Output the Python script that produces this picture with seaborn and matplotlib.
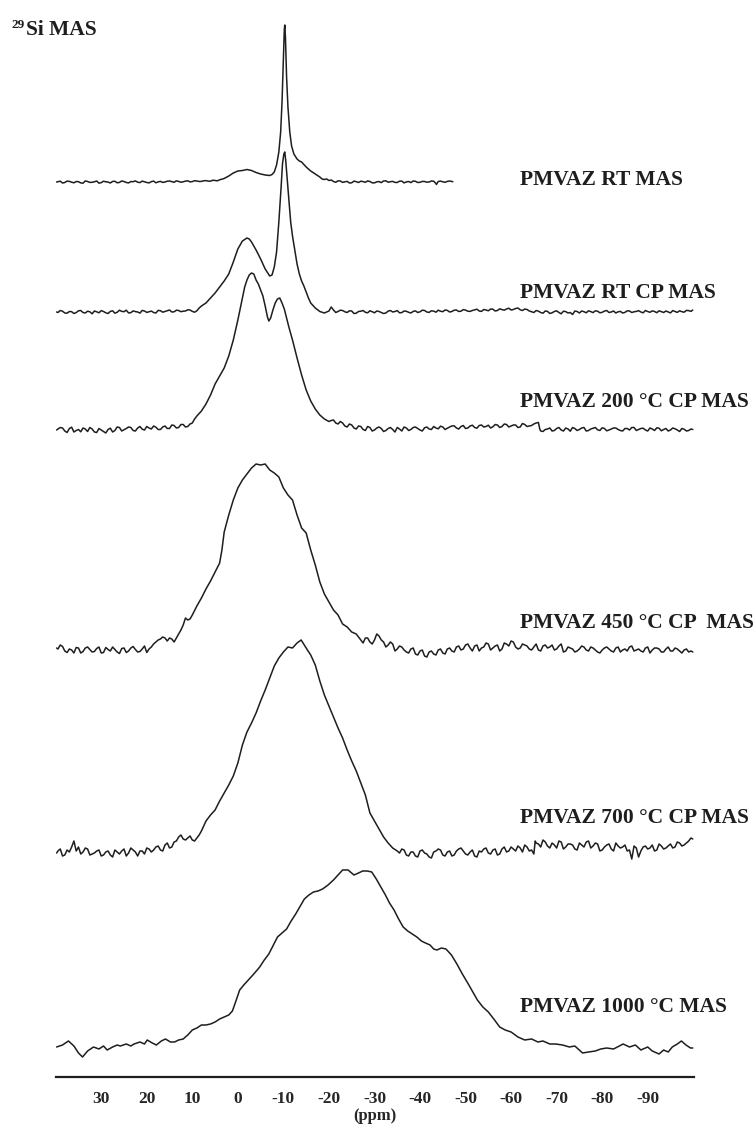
import matplotlib
matplotlib.use("Agg")
import matplotlib.pyplot as plt
import seaborn as sns

# ---- data (ppm, height above own baseline in px) ----
rt_mas_ppm = [39.8, 39, 38, 37, 36, 35, 34, 33, 32, 31, 30, 29, 28, 27, 26, 25, 24, 23, 22, 21,
              20, 19, 18, 17, 16, 15, 14, 13, 12, 11, 10, 9, 8, 7, 6, 5, 4, 3, 2, 1, 0, -1, -2, -3,
              -4, -5, -6, -7, -7.5, -8, -8.5, -9, -9.4, -9.7, -10.0, -10.2, -10.3, -10.45, -10.7,
              -11.0, -11.4, -11.8, -12.3, -13, -13.5, -14, -14.5, -15, -16, -17, -18, -18.5, -19,
              -19.5, -20, -21, -22, -23, -24, -25, -26, -27, -28, -29, -30, -31, -32, -33, -34, -35,
              -36, -37, -38, -39, -40, -41, -42, -43, -43.6, -44, -45, -46, -47.2]
rt_mas_int = [0.0, 0.8, -0.5, 0.6, -0.8, 0.3, -1.2, 0.5, -0.3, 1.0, -0.6, 0.2, -1.0, 0.7, -0.4, 0.5,
              -0.9, 0.3, -0.2, 0.9, -0.5, 0.4, -0.8, 0.6, 0.0, 1.0, -0.3, 0.5, 0.2, 1.2, 0.4, 1.0, 0.6,
              1.4, 0.8, 1.5, 2.2, 3.5, 6, 9, 11, 11.5, 12.5, 11.5, 9.5, 8, 7, 6.5, 7.5, 10, 17, 30, 50,
              80, 125, 152, 157, 145, 105, 75, 50, 36, 28, 23, 21, 20, 17.5, 15, 11, 8, 5, 3, 2.5, 3,
              1.5, 0.5, 1.2, -0.4, 0.6, -0.8, 0.3, 0.8, -0.3, 0.5, -0.9, 0.4, 1.0, -0.2, 0.6, -0.5,
              0.9, 0.1, -0.6, 0.7, -0.3, 0.5, 0.0, 0.8, -2.5, 0.5, 0.2, 0.6, 0.3]
# extra half-ppm samples of the noisy baselines (first ppm, then one value per -1 ppm)
rt_mas_fine = [(39.5, [0.3, -1.0, 0.9, -0.2, 0.5, -0.9, 1.1, -0.4, 0.2, -1.2, 0.8, -0.1, 0.6, -0.8,
                       1.0, -0.5, 0.4, 1.1, -0.6, 0.2, -0.9, 0.9, 0.1, -0.4, 0.8, 0.3, 1.2, -0.2,
                       0.9, 0.1, 1.3, 0.5, 1.2, 0.9, 1.8, 1.2]),
               (-20.5, [2.0, -0.3, 1.0, 0.2, -1.0, 0.9, -0.5, 0.4, 1.1, -0.8, 0.2, -0.6, 1.2, 0.3,
                        -0.4, 0.8, -0.9, 0.5, 1.0, -0.5, 0.6, -0.2, 1.0, -1.5, 0.9, -0.3, 1.0])]

rt_cp_ppm = [39.8, 39, 38, 37, 36, 35, 34, 33, 32, 31, 30, 29, 28, 27, 26, 25, 24, 23, 22, 21, 20,
             19, 18, 17, 16, 15, 14, 13, 12, 11, 10, 9, 8.5, 8, 7, 6, 5, 4, 3, 2, 1, 0, -1, -2, -2.5,
             -3, -4, -5, -6, -7, -7.5, -8, -8.5, -9, -9.5, -9.8, -10.1, -10.3, -10.5, -10.8, -11.2,
             -11.6, -12, -12.5, -13, -13.5, -14, -14.5, -15, -15.5, -16, -17, -18, -19, -20, -20.5,
             -21, -22, -23, -24, -25, -26, -27, -28, -29, -30, -31, -32, -33, -34, -35, -36, -37,
             -38, -39, -40, -41, -42, -43, -44, -45, -46, -47, -48, -49, -50, -51, -52, -53, -54,
             -55, -56, -57, -58, -59, -60, -61, -62, -63, -64, -65, -66, -67, -68, -69, -70, -71,
             -72, -73, -74, -75, -76, -77, -78, -79, -80, -81, -82, -83, -84, -85, -86, -87, -88,
             -89, -90, -91, -92, -93, -94, -95, -96, -97, -98, -99, -99.9]
rt_cp_int = [0, 1.5, -1, 0.5, -1.5, 1.2, -0.5, 0.8, -1.8, 0.2, 1.4, -0.8, 0.6, -1.2, 1.8, 0.3, -0.9,
             1.1, 0.0, 1.6, -0.4, 0.9, -1.0, 1.3, 0.5, 2.0, 0.2, 1.5, 0.8, 2.2, 0.6, 1.2, 4, 6, 9, 14,
             19, 25, 31, 38, 50, 63, 71, 74, 73, 70, 62, 53, 43, 36, 37, 45, 60, 90, 125, 148, 158,
             160, 152, 135, 112, 90, 76, 62, 48, 38, 31, 26, 20, 14, 9, 4, 0.5, -1, 1, 5, 2, 0.5, 1.5,
             -0.5, 1.0, -1.2, 0.8, -0.3, 1.2, -0.8, 0.5, -1.5, 0.9, 0.0, 1.4, -0.6, 0.7, -1.0, 1.1,
             0.2, 1.5, -0.4, 0.9, 1.8, 0.3, 1.6, 0.5, 2.0, 0.8, 1.9, 0.6, 2.2, 1.0, 2.5, 1.2, 2.8,
             1.5, 2.4, 3.0, 2.0, 3.5, 2.2, 3.0, 1.0, -0.5, 0.8, -1.2, 0.6, -0.8, 1.2, -1.8, 0.4, -0.5,
             1.0, -1.0, 0.3, 1.2, -0.6, 0.8, -0.3, 1.5, 0.0, -1.0, 0.6, -0.4, 1.0, 0.2, 1.3, -0.8,
             0.5, 1.1, -0.7, 0.4, 1.0, -0.9, 0.5, 1.2, -0.2, 1.4, 2.0]
rt_cp_fine = [(39.5, [-0.5, 0.8, -1.2, 0.3, -0.6, 1.5, -1.0, 0.2, 1.0, -0.8, 0.5, -1.5, 1.2, -0.3,
                      0.6, 1.8, -0.7, 0.4, -1.1, 1.0, 0.2, -0.5, 1.6, -0.2, 1.2, 0.0, 1.8, 0.3,
                      1.0, 2.0, -0.2]),
              (-21.5, [-0.5, 1.8, 0.2, 1.2, -1.5, 0.5, 1.5, -0.8, 0.3, 1.0, -0.5, -1.0, 1.5, 0.5,
                       -0.8, 1.0, -0.3, 0.6, -0.5, 1.8, 0.0, 1.2, -0.2, 0.8, 2.0, 0.0, 1.8, 0.5,
                       2.4, 0.8, 1.5, 2.8, 0.6, 2.0, 3.0, 1.0, 3.2, 1.8, 3.8, 2.5, 4.0, 1.5, 2.5,
                       0.2, 1.5, -0.5, 1.0, -1.5, 0.5, -0.5, 0.8, -1.0, -2.5, 0.5, 1.0, -0.8, 0.4,
                       1.2, -0.8, 0.9, -0.5, 1.0, 0.2, -1.0, 1.2, -0.5, 0.6, 0.0, 1.5, -0.3, 0.5,
                       1.2, -0.5, 0.0, 1.4, -0.4, 0.3, 1.6, 0.6])]

c200_ppm = [39.8, 39, 38, 37, 36, 35, 34, 33, 32, 31, 30, 29, 28, 27, 26, 25, 24, 23, 22, 21, 20,
            19, 18, 17, 16, 15, 14, 13, 12, 11, 10, 9.5, 9, 8, 7, 6, 5, 4, 3, 2, 1, 0, -1, -1.5, -2,
            -2.5, -3, -3.5, -4, -4.5, -5, -5.5, -6, -6.5, -6.8, -7.2, -7.7, -8.2, -8.7, -9.2, -9.7,
            -10.2, -10.7, -11.2, -12, -13, -14, -15, -16, -17, -18, -19, -20, -21, -22, -23, -24,
            -25, -26, -27, -28, -29, -30, -31, -32, -33, -34, -35, -36, -37, -38, -39, -40, -41,
            -42, -43, -44, -45, -46, -47, -48, -49, -50, -51, -52, -53, -54, -55, -56, -57, -58,
            -59, -60, -61, -62, -63, -64, -65, -66, -66.3, -67, -68, -69, -70, -71, -72, -73, -74,
            -75, -76, -77, -78, -79, -80, -81, -82, -83, -84, -85, -86, -87, -88, -89, -90, -91,
            -92, -93, -94, -95, -96, -97, -98, -99, -99.9]
c200_int = [0, 2.5, -1, 1.5, -2, 0.5, 2, -1.5, 1, -2.5, 0, -3, 1.8, -0.5, 2.5, 0.2, 3, -0.5, 2.0,
            0.8, 3.5, 1.0, 2.8, 0.5, 4.0, 1.5, 4.5, 2.5, 5.5, 3.5, 7, 11, 14, 19, 26, 35, 46, 54, 62,
            74, 90, 110, 132, 143, 150, 155, 157, 156, 150, 146, 140, 134, 124, 113, 109, 112, 120,
            127, 131, 132, 127, 121, 112, 103, 90, 72, 55, 40, 29, 21, 15, 11, 8.5, 10, 6, 7, 3, 5,
            1.0, 3.5, -0.5, 2.5, 0.0, 3.0, -1.5, 1.5, 0.5, 2.5, -1.0, 2.0, 0.5, 3.0, 0.0, 2.2, 1.0,
            3.5, 1.2, 3.0, 1.8, 4.0, 2.0, 3.5, 1.5, 4.0, 2.5, 4.5, 3.0, 4.8, 3.2, 5.0, 3.5, 5.5, 4.0,
            5.0, 3.0, 5.5, 4.0, 6.0, 7.5, 1, -1.5, 1.0, -1.0, 1.5, 0.0, 2.0, -1.2, 1.5, 0.5, 2.5,
            -0.5, 1.8, 0.2, 2.2, -0.8, 1.0, 2.0, -0.5, 1.5, 0.0, 2.5, 0.5, 1.8, -1.0, 1.0, 2.2, -0.8,
            1.5, 0.0, 1.2, -1.5, 0.8, -0.5, 0.5]
c200_fine = [(39.5, [1.0, 2.0, -2.5, 2.8, -0.5, -1.8, 1.0, 2.5, -2.0, 1.5, -1.5, 0.5, -2.0, 3.0,
                     -1.0, 1.5, 2.5, -1.0, 3.5, 0.0, 2.0, 4.0, 0.5, 3.0, 1.5, 5.0, 2.0, 5.5, 3.0,
                     6.0]),
             (-20.5, [9.5, 7.0, 8.5, 4.0, 6.0, 2.0, 4.0, 0.5, 3.5, -1.0, 2.0, 1.5, -0.5, 2.5, -2.0,
                      1.0, 3.0, -0.5, 2.5, 1.5, -1.0, 3.0, 0.5, 2.0, 3.8, 0.5, 3.0, 4.2, 1.0, 4.5,
                      2.0, 4.8, 1.8, 5.0, 3.5, 2.0, 5.5, 2.5, 6.0, 3.0, 5.0, 2.5, 6.5, 3.5, 4.5,
                      7.0, -1.0, 0.5, 2.0, -0.5, 2.5, -1.0, 1.0, 2.5, -0.5, 2.0, -1.0, 1.0, 2.5,
                      -0.5, 1.5, 0.0, 2.0, 0.5, -1.0, 1.5, 2.5, -0.5, 1.5, 0.0, 2.0, -0.5, 1.8,
                      0.5, -1.0, 2.0, 0.0, 1.5, -1.0, 1.0])]

c450_ppm = [39.8, 39, 38, 37, 36, 35, 34, 33, 32, 31, 30, 29, 28, 27, 26, 25, 24, 23, 22, 21, 20,
            19, 18, 17, 16, 15, 14, 13, 12, 11, 10, 9, 8, 7, 6, 5, 4, 3.5, 3, 2, 1, 0, -1, -2, -3,
            -4, -5, -6, -7, -8, -9, -10, -11, -12, -13, -14, -15, -16, -17, -18, -19, -20, -21,
            -22, -23, -24, -25, -26, -27, -28, -29, -30, -31, -32, -33, -34, -35, -36, -37, -38,
            -39, -40, -41, -42, -43, -44, -45, -46, -47, -48, -49, -50, -51, -52, -53, -54, -55,
            -56, -57, -58, -59, -60, -61, -62, -63, -64, -65, -66, -67, -68, -69, -70, -71, -72,
            -73, -74, -75, -76, -77, -78, -79, -80, -81, -82, -83, -84, -85, -86, -87, -88, -89,
            -90, -91, -92, -93, -94, -95, -96, -97, -98, -99, -99.9]
c450_int = [2, 5, -1, 1, -3, 2, -1.5, 3, -2, 1.5, -3, 2.5, -1, 0.5, -3.5, 2, -1, 3.5, -2, 1, -2.5,
            3, 8, 11, 12, 12, 8, 16, 25, 30, 35, 44, 52, 61, 69, 78, 87, 100, 118, 135, 150, 162,
            170, 176, 182, 186, 185, 186, 180, 177, 173, 162, 155, 150, 135, 122, 117, 100, 85, 68,
            56, 48, 40, 35, 26, 23, 18, 16, 10, 12, 8, 10, 14, 8, 5, 6, 1, 3, -2, 1, -4, -1, -6, -2,
            -4, 0, -3, 1, -1, 3, 0, 5, 2, 4, -1, 3, 6, 2, 5, 1, 6, 9, 3, 2, 5, 1, 3, 0, 4, 2, 5, 1,
            6, -1, 2, -2, 1, 3, -1, 2, -2, 0, 3, -1, 2, -2, 1, 3, -1, 1, -2, 3, 0, 2, -2, 1, -1, 2,
            -1, 0, -2, -2]
c450_fine = [(39.5, [1.0, 3.5, -2.5, 0.0, 2.5, -3.0, 2.0, 0.5, -1.5, 3.0, -2.5, 0.5, 3.0, -2.0,
                     1.5, -2.5, 2.0, 0.5, -1.5, 4.0, 1.0, 6.0, 10.0, 13.0, 9.0, 11.0, 12.0, 20.0,
                     32.0, 31.0]),
             (-27.5, [7, 12, 6, 16, 10, 3, 8, -1, 4, 0, -3, 2, -5, 0, -7, -1, -5, 1, -4, 2, -2, 4,
                      1, 6, -1, 5, 2, 7, 0, 4, -1, 7, 4, 8, 1, 6, 4, 0, 6, -1, 5, 3, 0, 4, -2, 3,
                      1, -1, 4, 0, 3, 0, -3, 2, 1, -2, 3, 0, -1, 4, 0, -1, 2, -3, 2, 1, -2, 3, -1,
                      1, -3, 1, -1])]

c700_ppm = [39.8, 39, 38, 37, 36, 35, 34, 33, 32, 31, 30, 29, 28, 27, 26, 25, 24, 23, 22, 21,
            20, 19, 18, 17, 16, 15, 14, 13, 12, 11, 10, 9, 8, 7, 6, 5, 4, 3, 2, 1, 0, -1, -2, -3,
            -4, -5, -6, -7, -8, -9, -10, -11, -12, -13, -13.9, -15, -16, -17, -18, -19, -20, -21,
            -22, -23, -24, -25, -26, -27, -28, -29, -30, -31, -32, -33, -34, -35, -36, -37, -38,
            -39, -40, -41, -42, -43, -44, -45, -46, -47, -48, -49, -50, -51, -52, -53, -54, -55,
            -56, -57, -58, -59, -60, -61, -62, -63, -64, -65, -65.3, -66, -67, -68, -69, -70, -71,
            -72, -73, -74, -75, -76, -77, -78, -79, -80, -81, -82, -83, -84, -85, -86, -87, -88,
            -89, -90, -91, -92, -93, -94, -95, -96, -97, -98, -99, -99.9]
c700_int = [0, 4, -2, 1, 12, 6, 1, 4, -1, 2, -3, 1, -2, 3, -1, 4, 0, 3, -3, 2, 5, 1, 6, 3, 8, 5,
            11, 16, 14, 15, 13, 15, 22, 32, 38, 43, 52, 60, 68, 77, 90, 108, 121, 130, 140, 152,
            163, 175, 187, 195, 201, 206, 205, 210, 213, 205, 198, 188, 172, 158, 147, 136, 125,
            115, 103, 92, 82, 70, 58, 40, 32, 24, 16, 10, 5, 2, 4, -2, 1, -3, 2, 0, -4, 1, 4, -2, 1,
            -3, 2, 5, -1, 1, -3, 2, 4, 0, 3, -2, 4, 1, 6, 2, 5, 8, 2, -1, 12, 9, 13, 7, 10, 5, 11, 6,
            9, 4, 10, 6, 12, 7, 9, 3, 8, 4, 10, 5, 8, 3, 7, -4, 6, 4, 8, 3, 7, 5, 9, 6, 10, 8, 12,
            14]
c700_fine = [(39.5, [2, -3, 3, 6, 2, -1, 5, -2, 0, 3, -2, 2, -4, 1, 2, -3, 5, 1, 2, -1, 4, 3, 7,
                     2, 10, 6, 12, 18, 13, 17, 12, 18]),
             (-35.5, [0, 3, -3, 1, -4, 3, -1, -5, 2, 3, -3, 2, -2, 4, 2, -2, 3, -4, 1, 5, -1, 4,
                      -1, 6, 2, 4, 7, 1, 6, 3, 10, 6, 11, 5, 8, 12, 4, 9, 8, 3, 8, 11, 5, 10, 2, 6,
                      9, 2, 7, 6, 2, -6, 5, 2, 7, 5, 2, 9, 4, 7, 5, 11, 7, 10, 15])]

c1000_ppm = [39.8, 38.5, 37.2, 36, 35, 34.1, 33, 31.7, 30.5, 29.5, 28.7, 27.5, 26.5, 25.8, 24.5,
             23.5, 22.8, 21.5, 20.5, 19.9, 18.8, 17.9, 16.8, 15.9, 14.8, 13.9, 13, 12, 11, 10, 9,
             8, 7, 6, 5, 4, 3, 2, 1.2, 0.5, -0.4, -1.3, -2.3, -3.5, -4.8, -5.8, -6.8, -7.8, -8.7,
             -9.7, -10.7, -11.7, -12.7, -13.7, -14.6, -15.6, -16.6, -17.6, -18.6, -19.8, -21, -22,
             -23, -24.2, -25.5, -26.5, -27.4, -28.4, -29.4, -30.4, -31.4, -32.4, -33.3, -34.3,
             -35.3, -36.3, -37.3, -38.3, -39.3, -40.3, -41.2, -42.2, -43, -43.7, -44.7, -45.7,
             -46.9, -48.1, -49.3, -50.6, -51.6, -52.6, -53.8, -55, -56.2, -57.5, -58.7, -60, -61.5,
             -63, -64.5, -65.9, -67, -68.5, -69.8, -71.3, -72.8, -74, -75.7, -77, -78.5, -79.7,
             -81, -82.5, -84.6, -86, -87.3, -88.5, -90, -91, -92.5, -93.5, -94.5, -95.4, -96.5,
             -97.4, -98.4, -99.4, -99.9]
c1000_int = [0, 2, 6, 1, -6, -10, -4, 0, -2, 1, -3, 0, 2, 1, 3, 1, 3, 5, 3, 7, 4, 2, 6, 8, 5, 5, 7,
             8, 12, 17, 19, 22, 22, 23, 25, 28, 30, 32, 36, 45, 57, 62, 67, 73, 80, 87, 93, 102, 110,
             114, 118, 126, 133, 141, 148, 152, 155, 156, 158, 162, 167, 172, 177, 177, 172, 174,
             176, 176, 175, 168, 160, 152, 144, 137, 128, 120, 116, 113, 110, 106, 104, 102, 98, 97,
             99, 98, 92, 83, 73, 63, 55, 47, 40, 35, 28, 20, 17, 15, 10, 7, 8, 5, 6, 3, 3, 2, 0, 1,
             -6, -5, -4, -2, -1, -2, 3, 0, 2, -3, 0, -4, -7, -3, -5, 0, 3, 6, 2, -1, -1]

# baseline of each trace (px above the axis line) and its label
offsets = [895, 765, 647, 427, 224, 30]
labels = ["PMVAZ RT MAS", "PMVAZ RT CP MAS", "PMVAZ 200 \u00b0C CP MAS",
          "PMVAZ 450 \u00b0C CP  MAS", "PMVAZ 700 \u00b0C CP MAS", "PMVAZ 1000 \u00b0C MAS"]
label_y_px = [180, 293, 402, 623, 818, 1007]

tick_pos = [30, 20, 10, 0, -10, -20, -30, -40, -50, -60, -70, -80, -90]
tick_text = ["30", "20", "10", "0", "-10", "-20", "-30", "-40", "-50", "-60", "-70", "-80", "-90"]

spectra = [(rt_mas_ppm, rt_mas_int, rt_mas_fine), (rt_cp_ppm, rt_cp_int, rt_cp_fine),
           (c200_ppm, c200_int, c200_fine), (c450_ppm, c450_int, c450_fine),
           (c700_ppm, c700_int, c700_fine), (c1000_ppm, c1000_int, [])]


def merge(ppm, inten, fine):
    # join the coarse samples with the half-ppm samples, ordered along the ppm axis
    pts = list(zip(ppm, inten))
    for start, vals in fine:
        pts += [(start - i, v) for i, v in enumerate(vals)]
    pts.sort(key=lambda p: -p[0])
    return [p[0] for p in pts], [p[1] for p in pts]


sns.set_style("white")
plt.rcParams['font.family'] = ['Liberation Serif', 'DejaVu Serif']
plt.rcParams['font.weight'] = 'bold'

W, H = 753, 1128
fig = plt.figure(figsize=(W / 100, H / 100), dpi=100)
ax = fig.add_axes([55.7 / W, 1 - 1077 / H, 638 / W, 1067 / H])

ink = "#1e1e1e"
for (ppm, inten, fine), off in zip(spectra, offsets):
    x, y = merge(ppm, inten, fine)
    sns.lineplot(x=x, y=[v + off for v in y], ax=ax, color=ink, lw=1.1,
                 sort=False, estimator=None)

ax.set_xlim(40, -100.1)
ax.set_ylim(0, 1067)
ax.set_yticks([])
ax.set_ylabel("")
ax.set_xticks(tick_pos)
ax.set_xticklabels(tick_text, fontsize=12.5, fontweight="bold")
ax.tick_params(axis="x", direction="out", length=8, width=1.3, color=ink, pad=2)
for side in ["top", "left", "right"]:
    ax.spines[side].set_visible(False)
ax.spines["bottom"].set_linewidth(1.6)
ax.spines["bottom"].set_color(ink)
ax.set_xlabel("(ppm)", fontsize=12, fontweight="bold", labelpad=1)

for lab, ypx in zip(labels, label_y_px):
    fig.text(520 / W, 1 - ypx / H, lab, fontsize=15.5, fontweight="bold",
             va="center", ha="left", color=ink)

# 29Si MAS title with a raised mass number
fig.text(12 / W, 1 - 28 / H, "29", fontsize=9.5, fontweight="bold", va="baseline", color=ink)
fig.text(26 / W, 1 - 35 / H, "Si MAS", fontsize=15.5, fontweight="bold", va="baseline", color=ink)

fig.savefig("out.png", dpi=100)
